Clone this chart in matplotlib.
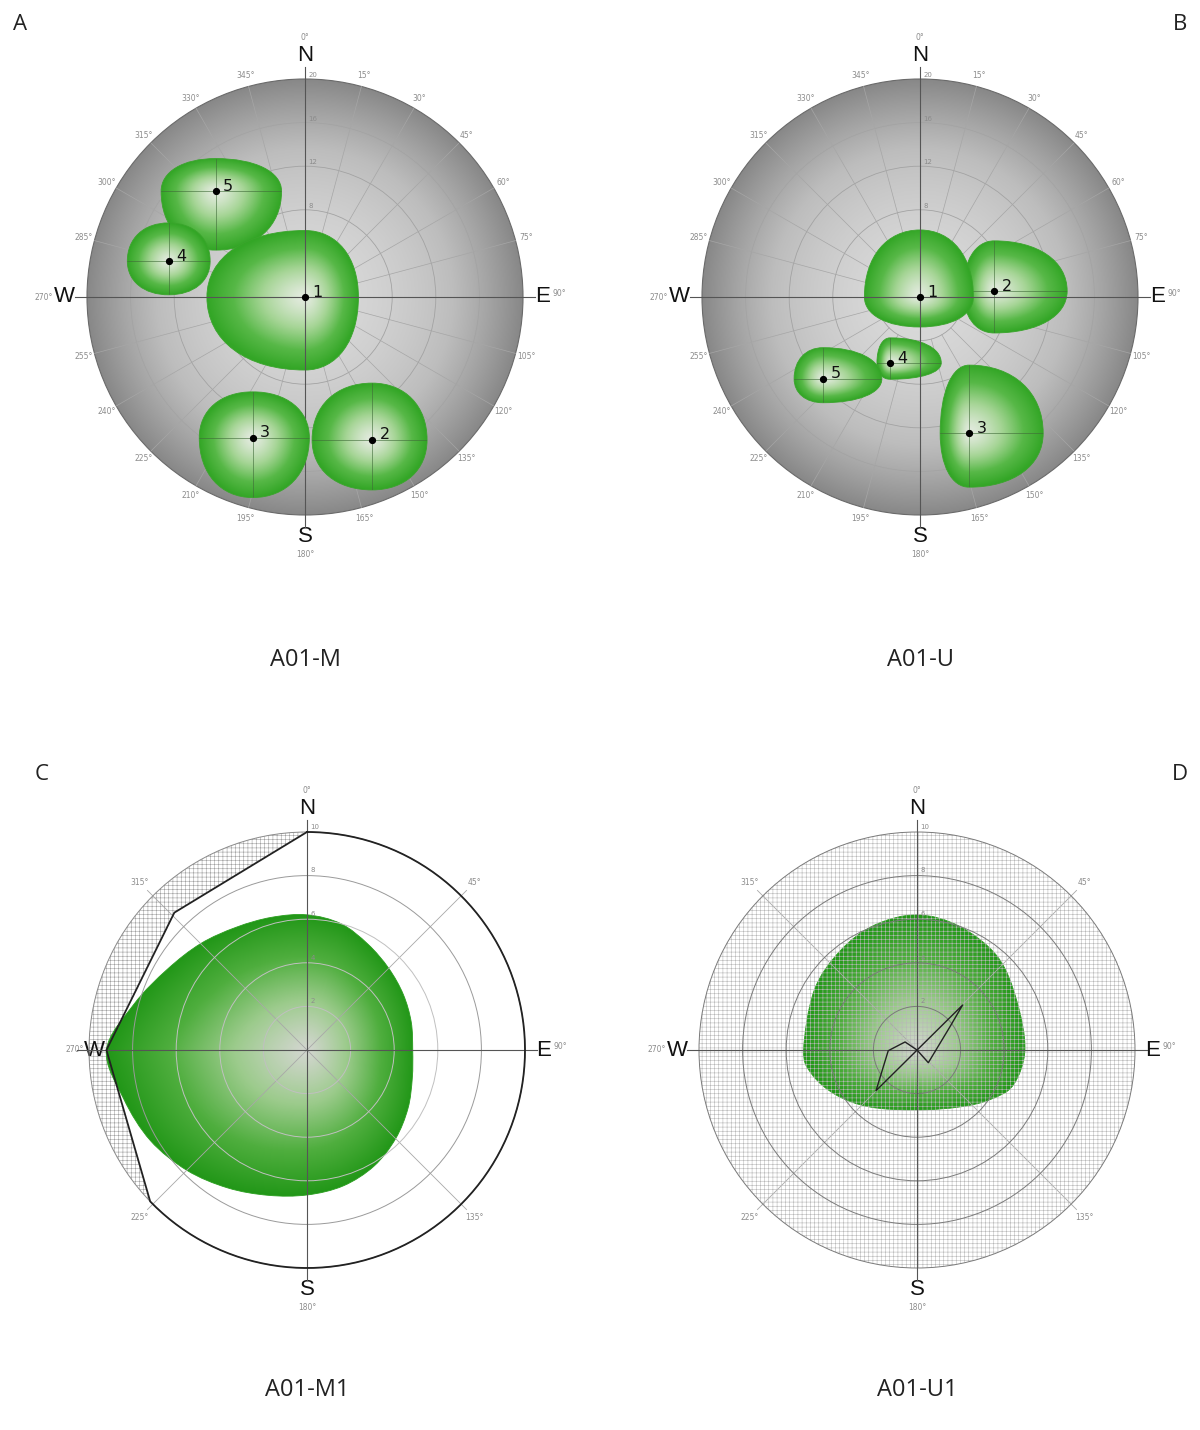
import numpy as np
import matplotlib.pyplot as plt
from matplotlib.path import Path
from matplotlib.patches import PathPatch, Circle, Polygon
from matplotlib.colors import LinearSegmentedColormap
from matplotlib.transforms import Affine2D

plt.rcParams['hatch.linewidth'] = 0.4

# ---------------- data ----------------
# A / B : sky sphere (outer ring = 20), blobs given by point (east, north) and extents
a_ids = [1, 2, 3, 4, 5]
a_east = [0.0, 6.15, -4.8, -12.5, -8.2]
a_north = [0.0, -13.1, -12.9, 3.3, 9.7]
a_left = [9.0, 5.5, 4.9, 3.8, 5.0]
a_right = [4.9, 5.05, 5.2, 3.8, 6.05]
a_up = [6.1, 5.2, 4.2, 3.5, 3.0]
a_down = [6.7, 4.6, 5.5, 3.1, 5.4]
a_order = [5, 4, 1, 2, 3]

b_ids = [1, 2, 3, 4, 5]
b_east = [0.0, 6.8, 4.5, -2.75, -8.9]
b_north = [0.0, 0.55, -12.5, -6.05, -7.5]
b_left = [5.1, 2.85, 2.65, 1.2, 2.65]
b_right = [4.9, 6.7, 6.8, 4.7, 5.4]
b_up = [6.15, 4.6, 6.25, 2.3, 2.85]
b_down = [2.75, 3.85, 4.95, 1.5, 2.2]
b_order = [2, 1, 3, 4, 5]

ab_rings = [4, 8, 12, 16, 20]
ab_deg = list(range(0, 360, 15))

# C / D : outer ring = 10, shapes as radius per bearing (deg clockwise from N)
c_bearing = [0, 15, 30, 45, 60, 75, 90, 105, 120, 135, 150, 165, 180,
             195, 210, 225, 240, 255, 270, 285, 300, 315, 330, 345]
c_radius = [6.2, 6.0, 5.6, 5.3, 5.1, 4.95, 4.85, 5.0, 5.35, 5.75, 6.15, 6.45, 6.65,
            6.9, 7.3, 7.8, 8.3, 8.7, 9.2, 8.2, 7.4, 6.9, 6.5, 6.3]
c_horizon_bearing = [0, 316, 270, 226]
c_horizon_r = [10, 8.76, 9.2, 10]

d_bearing = [0, 19, 41, 64, 90, 110, 124, 143, 180, 219.5, 241, 257, 270, 300, 322, 341]
d_radius = [6.2, 6.0, 5.65, 5.1, 4.95, 4.7, 4.06, 3.27, 2.75, 3.39, 4.25, 4.95, 5.2, 5.45, 5.75, 6.05]
d_line_bearing = [0, 304, 268.6, 225.2, 45.4, 54.8, 138.3, 0]
d_line_r = [0, 0.66, 1.32, 2.65, 2.94, 1.85, 0.78, 0]

cd_rings = [2, 4, 6, 8, 10]
cd_deg = list(range(0, 360, 45))

titles = ['A01-M', 'A01-U', 'A01-M1', 'A01-U1']
letters = ['A', 'B', 'C', 'D']

# ---------------- helpers ----------------
W, H = 1200, 1430
fig = plt.figure(figsize=(12, 14.3), dpi=100)

sphere_cmap = LinearSegmentedColormap.from_list('sph', ['#dadada', '#bdbdbd', '#888888'])
blob_cmap = LinearSegmentedColormap.from_list('blob', ['#e4ebe0', '#a6d596', '#57b847', '#33a626'])
shape_cmap = LinearSegmentedColormap.from_list('shp', ['#d3d6d0', '#9ccb8c', '#4fae3e', '#229718'])
GRAY = '#8c8c8c'


def panel_axes(cx, cy, half_units, ppu):
    half = half_units * ppu
    ax = fig.add_axes([(cx - half) / W, (H - cy - half) / H, 2 * half / W, 2 * half / H])
    ax.axis('off')
    return ax, half_units


def polar_xy(bearing, r):
    b = np.radians(np.asarray(bearing, dtype=float))
    r = np.asarray(r, dtype=float)
    return r * np.sin(b), r * np.cos(b)


def blob_path(x, y, l, r, u, d, k=0.6):
    verts = [(x + r, y),
             (x + r, y + k * u), (x + k * r, y + u), (x, y + u),
             (x - k * l, y + u), (x - l, y + k * u), (x - l, y),
             (x - l, y - k * d), (x - k * l, y - d), (x, y - d),
             (x + k * r, y - d), (x + r, y - k * d), (x + r, y),
             (x + r, y)]
    codes = [Path.MOVETO] + [Path.CURVE4] * 12 + [Path.CLOSEPOLY]
    return Path(verts, codes)


def smooth_closed(xs, ys):
    P = np.column_stack([xs, ys])
    n = len(P)
    verts, codes = [P[0]], [Path.MOVETO]
    for i in range(n):
        p0, p1, p2, p3 = P[i - 1], P[i], P[(i + 1) % n], P[(i + 2) % n]
        verts += [p1 + (p2 - p0) / 6, p2 - (p3 - p1) / 6, p2]
        codes += [Path.CURVE4] * 3
    return Path(verts, codes)


def clipped_image(ax, arr, extent, cmap, path, z):
    im = ax.imshow(arr, extent=extent, origin='lower', cmap=cmap, vmin=0, vmax=1,
                   zorder=z, interpolation='bilinear')
    patch = PathPatch(path, facecolor='none', edgecolor='none', zorder=z)
    ax.add_patch(patch)
    im.set_clip_path(patch)
    return patch


def compass(ax, R, w_pos=-1.105, e_pos=1.09):
    fs = 16
    kw = dict(ha='center', va='center', fontsize=fs, family='Liberation Sans', color='#111')
    ax.text(0, 1.11 * R, 'N', **kw)
    ax.text(0, -1.10 * R, 'S', **kw)
    ax.text(e_pos * R, 0, 'E', **kw)
    ax.text(w_pos * R, 0, 'W', **kw)
    ax.text(0, 1.19 * R, '0°', ha='center', va='center', fontsize=5.5, color=GRAY)
    ax.text(0, -1.18 * R, '180°', ha='center', va='center', fontsize=5.5, color=GRAY)
    ax.text(e_pos * R + 0.045 * R, 0.015 * R, '90°', ha='left', va='center', fontsize=5.5, color=GRAY)
    ax.text(w_pos * R - 0.05 * R, 0, '270°', ha='right', va='center', fontsize=5.5, color=GRAY)
    ax.plot([0, 0], [-1.055 * R, 1.055 * R], color='#555', lw=0.8, zorder=6)
    ax.plot([-1.055 * R, 1.055 * R], [0, 0], color='#555', lw=0.8, zorder=6)


def sphere_panel(ax, R, ids, east, north, left, right, up, down, order):
    # shaded sphere
    g = np.linspace(-R, R, 400)
    X, Y = np.meshgrid(g, g)
    t = np.clip(np.hypot(X, Y) / R, 0, 1) ** 1.8
    clipped_image(ax, t, (-R, R, -R, R), sphere_cmap,
                  Path.unit_circle().transformed(Affine2D().scale(R)), 1)
    ax.add_patch(Circle((0, 0), R, facecolor='none', edgecolor='#6a6a6a', lw=0.8, zorder=2))
    # grid
    for rr in ab_rings[:-1]:
        ax.add_patch(Circle((0, 0), rr, facecolor='none', edgecolor='#a3a3a3', lw=0.6, zorder=2))
    for b in ab_deg:
        if b % 90:
            x, y = polar_xy([b, b], [ab_rings[0], R])
            ax.plot(x, y, color='#a6a6a6', lw=0.5, zorder=2)
    for rr in ab_rings:
        ax.text(0.3, rr + 0.35, str(rr), fontsize=5, color=GRAY, ha='left', va='center', zorder=2)
    for b in ab_deg:
        if b % 90:
            x, y = polar_xy(b, 1.05 * R)
            ax.text(x, y, f'{b}°', fontsize=5.5, color=GRAY, ha='center', va='center')
    # blobs
    for z, i in enumerate(order):
        k = ids.index(i)
        x0, y0 = east[k], north[k]
        l, r, u, d = left[k], right[k], up[k], down[k]
        path = blob_path(x0, y0, l, r, u, d)
        gx = np.linspace(x0 - l, x0 + r, 160)
        gy = np.linspace(y0 - d, y0 + u, 160)
        GX, GY = np.meshgrid(gx, gy)
        dx = np.where(GX >= x0, (GX - x0) / r, (x0 - GX) / l)
        dy = np.where(GY >= y0, (GY - y0) / u, (y0 - GY) / d)
        tt = np.clip(np.hypot(dx, dy), 0, 1) ** 1.3
        patch = clipped_image(ax, tt, (gx[0], gx[-1], gy[0], gy[-1]), blob_cmap, path, 3 + z)
        ax.add_patch(PathPatch(path, facecolor='none', edgecolor='#3aa52c', lw=0.6, zorder=3 + z))
        for xs, ys in [([x0 - l, x0 + r], [y0, y0]), ([x0, x0], [y0 - d, y0 + u])]:
            ln, = ax.plot(xs, ys, color='#3f6b38', lw=0.6, alpha=0.7, zorder=3 + z)
            ln.set_clip_path(patch)
        ax.plot(x0, y0, 'o', color='black', ms=4.2, zorder=9)
        ax.text(x0 + 0.7, y0 + 0.45, str(i), fontsize=11.5, color='#111', ha='left', va='center', zorder=9)
    compass(ax, R)


def flat_panel(ax, R, bearing, radius):
    xs, ys = polar_xy(bearing, radius)
    path = smooth_closed(xs, ys)
    g = np.linspace(-R, R, 400)
    X, Y = np.meshgrid(g, g)
    ang = np.degrees(np.arctan2(X, Y)) % 360
    bnd = np.interp(ang, list(bearing) + [360], list(radius) + [radius[0]])
    t = np.clip(np.hypot(X, Y) / bnd, 0, 1) ** 1.1
    clipped_image(ax, t, (-R, R, -R, R), shape_cmap, path, 3)
    ax.add_patch(PathPatch(path, facecolor='none', edgecolor='#2a9e1f', lw=0.6, zorder=3))
    for b in cd_deg:
        if b % 90:
            x, y = polar_xy([b, b], [0, 1.035 * R])
            ax.plot(x, y, color='#a8a8a8', lw=0.6, zorder=4)
            tx, ty = polar_xy(b, 1.085 * R)
            ax.text(tx, ty, f'{b}°', fontsize=5.5, color=GRAY, ha='center', va='center')
    for rr in cd_rings:
        ax.text(0.15, rr + 0.1, str(rr), fontsize=5, color=GRAY, ha='left', va='bottom', zorder=5)


# ---------------- panel A ----------------
axA, hA = panel_axes(305, 297, 27.5, 10.9)
sphere_panel(axA, 20, a_ids, a_east, a_north, a_left, a_right, a_up, a_down, a_order)

# ---------------- panel B ----------------
axB, hB = panel_axes(920, 297, 27.5, 10.9)
sphere_panel(axB, 20, b_ids, b_east, b_north, b_left, b_right, b_up, b_down, b_order)

# ---------------- panel C ----------------
axC, hC = panel_axes(307, 1050, 13.76, 21.8)
R = 10
arc_b = np.linspace(226, 360, 120)
ox, oy = polar_xy(arc_b, np.full(arc_b.size, R))
hx, hy = polar_xy(c_horizon_bearing, c_horizon_r)
axC.add_patch(Polygon(np.column_stack([np.r_[ox, hx], np.r_[oy, hy]]), closed=True,
                      facecolor='white', edgecolor='#a0a0a0', hatch='++++', lw=0, zorder=1))
flat_panel(axC, R, c_bearing, c_radius)
for rr in cd_rings[:-1]:
    col = '#9a9a9a' if rr == 8 else '#c0c0c0'
    axC.add_patch(Circle((0, 0), rr, facecolor='none', edgecolor=col, lw=0.7, zorder=4))
axC.add_patch(Circle((0, 0), R, facecolor='none', edgecolor='#8a8a8a', lw=0.7, zorder=4))
arc2 = np.linspace(226, 0, 200)
ax2, ay2 = polar_xy(arc2, np.full(arc2.size, R))
axC.plot(np.r_[hx, ax2], np.r_[hy, ay2], color='#222', lw=1.3, zorder=7)
compass(axC, R, w_pos=-0.975, e_pos=1.085)

# ---------------- panel D ----------------
axD, hD = panel_axes(917, 1050, 13.76, 21.8)
flat_panel(axD, R, d_bearing, d_radius)
axD.add_patch(Circle((0, 0), R, facecolor='none', edgecolor='#b8b8b8', hatch='++++', lw=0, zorder=4))
for rr in cd_rings:
    axD.add_patch(Circle((0, 0), rr, facecolor='none', edgecolor='#7a7a7a', lw=0.7, zorder=5))
lx, ly = polar_xy(d_line_bearing, d_line_r)
axD.plot(lx, ly, color='#222', lw=1.0, zorder=7)
compass(axD, R, w_pos=-1.10, e_pos=1.08)

for ax, h in [(axA, hA), (axB, hB), (axC, hC), (axD, hD)]:
    ax.set_xlim(-h, h)
    ax.set_ylim(-h, h)
    ax.set_aspect('equal', adjustable='box')

# titles and panel letters
for t, (x, y) in zip(titles, [(305, 660), (920, 660), (307, 1390), (917, 1390)]):
    fig.text(x / W, 1 - y / H, t, ha='center', va='center', fontsize=17, family='Open Sans', color='#222')
for t, (x, y) in zip(letters, [(20, 25), (1180, 25), (42, 775), (1180, 775)]):
    fig.text(x / W, 1 - y / H, t, ha='center', va='center', fontsize=16, family='Open Sans', color='#222')

fig.savefig('out.png', dpi=100)
